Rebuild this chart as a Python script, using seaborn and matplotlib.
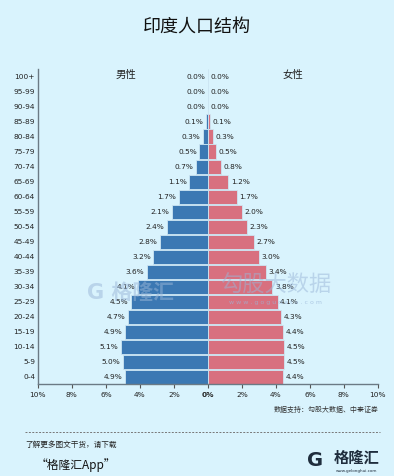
import numpy as np
import pandas as pd
import matplotlib
matplotlib.use("Agg")
import matplotlib.pyplot as plt
import seaborn as sns

# data, top row first
ages = ['100+', '95-99', '90-94', '85-89', '80-84', '75-79', '70-74', '65-69',
        '60-64', '55-59', '50-54', '45-49', '40-44', '35-39', '30-34', '25-29',
        '20-24', '15-19', '10-14', '5-9', '0-4']
male = [0.0, 0.0, 0.0, 0.1, 0.3, 0.5, 0.7, 1.1, 1.7, 2.1, 2.4, 2.8, 3.2, 3.6,
        4.1, 4.5, 4.7, 4.9, 5.1, 5.0, 4.9]
female = [0.0, 0.0, 0.0, 0.1, 0.3, 0.5, 0.8, 1.2, 1.7, 2.0, 2.3, 2.7, 3.0, 3.4,
          3.8, 4.1, 4.3, 4.4, 4.5, 4.5, 4.4]
xticks = [-10, -8, -6, -4, -2, 0, 2, 4, 6, 8, 10]

bg = '#d9f3fd'
male_c = '#3b78b3'
female_c = '#d8707f'

sns.set_style("ticks")
plt.rcParams['font.family'] = ['DejaVu Sans', 'Noto Sans CJK SC']

df = pd.DataFrame({'age': ages, 'male': [-v for v in male], 'female': female})

fig = plt.figure(figsize=(3.94, 4.76), dpi=100, facecolor=bg)
ax = fig.add_axes([0.096, 0.193, 0.863, 0.662])
ax.set_facecolor(bg)

sns.barplot(data=df, x='male', y='age', orient='h', color=male_c, saturation=1,
            width=0.94, edgecolor='#cde6f3', linewidth=0.6, ax=ax)
sns.barplot(data=df, x='female', y='age', orient='h', color=female_c, saturation=1,
            width=0.94, edgecolor='#cde6f3', linewidth=0.6, ax=ax)

for i, (m, f) in enumerate(zip(male, female)):
    ax.text(-m - 0.15, i, f'{m:.1f}%', ha='right', va='center', fontsize=5.3,
            color='#222222')
    ax.text(f + 0.15, i, f'{f:.1f}%', ha='left', va='center', fontsize=5.3,
            color='#222222')

ax.text(-4.8, -0.1, '男性', ha='center', va='center', fontsize=7.5,
        color='#222222', family='Noto Sans CJK SC')
ax.text(5.0, -0.1, '女性', ha='center', va='center', fontsize=7.5,
        color='#222222', family='Noto Sans CJK SC')

ax.set_xlim(-10, 10)
ax.set_ylim(len(ages) - 0.5, -0.5)
ax.set_xticks(xticks)
ax.set_xticklabels([f'{abs(t)}%' for t in xticks], fontsize=5.3, color='#222222')
for lab in ax.get_xticklabels():
    if lab.get_text() == '0%':
        lab.set_fontweight('bold')
ax.tick_params(axis='y', length=0, labelsize=5.3, labelcolor='#222222', pad=2)
ax.tick_params(axis='x', length=3, width=0.8, color='#555555', pad=3)
ax.set_xlabel('')
ax.set_ylabel('')
for s in ['top', 'right']:
    ax.spines[s].set_visible(False)
for s in ['left', 'bottom']:
    ax.spines[s].set_color('#6b7a85')
    ax.spines[s].set_linewidth(1.0)

# watermark
fig.text(0.33, 0.385, 'G 格隆汇', fontsize=15, color='#9ab6d8', alpha=0.5,
         ha='center', va='center', fontweight='bold')
fig.text(0.70, 0.40, '勾股大数据', fontsize=16, color='#9ab6d8', alpha=0.5,
         ha='center', va='center', family='Noto Sans CJK SC')
fig.text(0.70, 0.365, 'w w w . g o g u d a t a . c o m', fontsize=4.5,
         color='#9ab6d8', alpha=0.7, ha='center', va='center')

# title and footer
fig.text(0.5, 0.944, '印度人口结构', fontsize=13, ha='center', va='center',
         color='#111111', family='Noto Sans CJK SC')
fig.text(0.96, 0.138, '数据支持：勾股大数据、中泰证券', fontsize=5, ha='right',
         va='center', color='#333333', family='Noto Sans CJK SC')
fig.add_artist(plt.Line2D([0.064, 0.965], [0.092, 0.092], transform=fig.transFigure,
                          color='#777777', linewidth=0.7, linestyle=(0, (2, 1.5))))
fig.text(0.064, 0.065, '了解更多图文干货，请下载', fontsize=5.5, ha='left',
         va='center', style='italic', color='#222222', family='Noto Sans CJK SC')
fig.text(0.09, 0.022, '“格隆汇App”', fontsize=8.5, ha='left', va='center',
         style='italic', color='#111111', family='Noto Sans CJK SC')
fig.text(0.80, 0.033, 'G', fontsize=14, ha='center', va='center',
         fontweight='bold', color='#1f2d3d')
fig.text(0.905, 0.038, '格隆汇', fontsize=11, ha='center', va='center',
         fontweight='bold', color='#1f2d3d', family='Noto Sans CJK SC')
fig.text(0.905, 0.01, 'www.gelonghui.com', fontsize=3, ha='center', va='center',
         color='#1f2d3d')

fig.savefig('out.png', dpi=100, facecolor=bg)
